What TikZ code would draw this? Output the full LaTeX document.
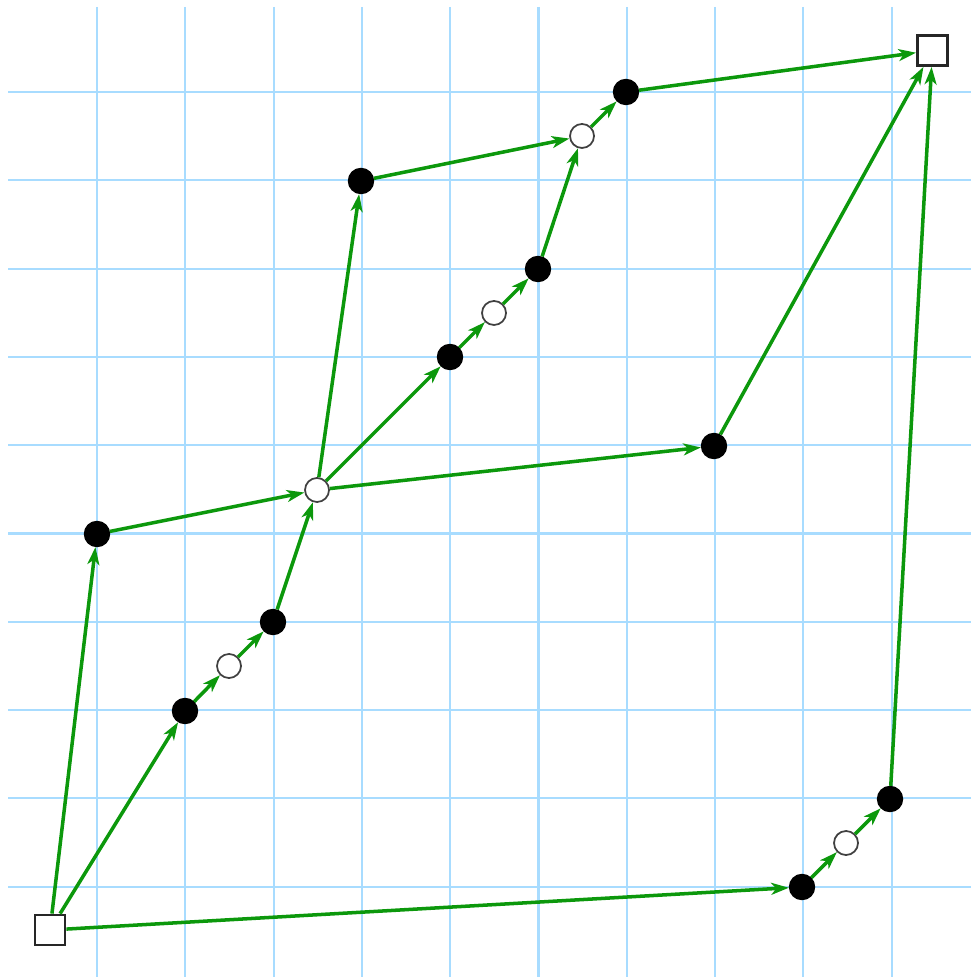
\documentclass[tikz,border=0pt]{standalone}
\usetikzlibrary{arrows.meta}
\definecolor{gridblue}{HTML}{A8DCFF}
\definecolor{edgegreen}{HTML}{0C980C}
\begin{document}
\begin{tikzpicture}[x=0.01cm,y=-0.01cm,
  blk/.style={circle,fill=black,draw=black,inner sep=0pt,minimum size=0.25cm},
  wht/.style={circle,fill=white,draw=black!75,line width=0.5pt,inner sep=0pt,minimum size=0.24cm},
  sq/.style={rectangle,fill=white,draw=black!85,line width=0.8pt,inner sep=0pt,minimum size=0.30cm},
  edge/.style={draw=edgegreen,line width=1pt,-{Stealth[length=5pt,width=3.4pt,inset=1.4pt]}},
  gridline/.style={draw=gridblue,line width=0.6pt}]
\useasboundingbox (0,0) rectangle (971,977);
% grid
\foreach \k in {0,...,9} {
  \draw[gridline] ({97+88.3*\k},7) -- ({97+88.3*\k},977);
  \draw[gridline] (8,{92+88.3*\k}) -- (971,{92+88.3*\k});
}
% nodes
\node[sq] (s1) at (50,930) {};
\node[sq] (s2) at (932.5,50.5) {};
\node[blk] (a) at (97,534) {};
\node[blk] (b) at (185,711) {};
\node[wht] (c) at (229,666) {};
\node[blk] (d) at (273,622) {};
\node[wht] (e) at (317,490) {};
\node[blk] (f) at (361,181) {};
\node[blk] (g) at (450,357) {};
\node[wht] (h) at (494,313) {};
\node[blk] (i) at (538,269) {};
\node[wht] (j) at (582,136) {};
\node[blk] (k) at (626,92) {};
\node[blk] (l) at (714,446) {};
\node[blk] (m) at (802,887) {};
\node[wht] (n) at (846,843) {};
\node[blk] (o) at (890,799) {};
% edges
\path[edge] (s1) -- (a);
\path[edge] (s1) -- (b);
\path[edge] (s1) -- (m);
\path[edge] (a) -- (e);
\path[edge] (b) -- (c);
\path[edge] (c) -- (d);
\path[edge] (d) -- (e);
\path[edge] (e) -- (f);
\path[edge] (e) -- (g);
\path[edge] (e) -- (l);
\path[edge] (g) -- (h);
\path[edge] (h) -- (i);
\path[edge] (i) -- (j);
\path[edge] (f) -- (j);
\path[edge] (j) -- (k);
\path[edge] (k) -- (s2);
\path[edge] (l) -- (s2);
\path[edge] (m) -- (n);
\path[edge] (n) -- (o);
\path[edge] (o) -- (s2);
\end{tikzpicture}
\end{document}
